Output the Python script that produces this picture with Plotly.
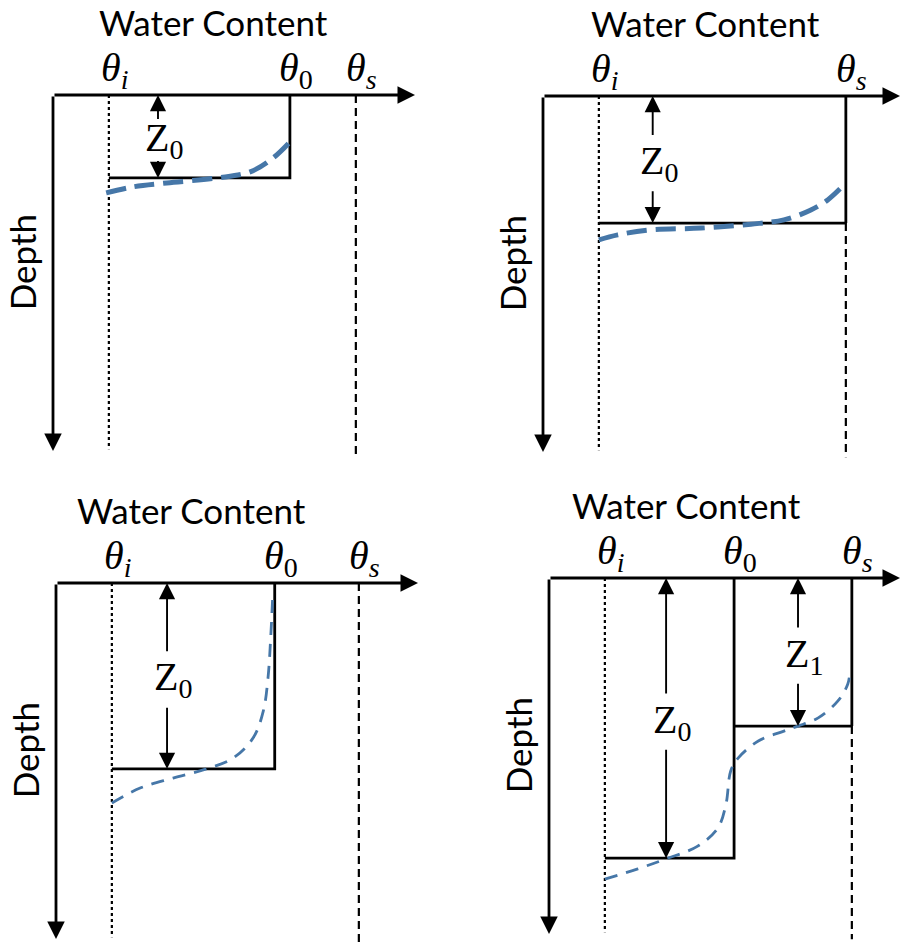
import plotly.graph_objects as go

# ---- data (water content in m3/m3, depth in cm) ----
theta_i = 0.083
theta_s = 0.45
theta_0 = [0.352, None, 0.325, 0.275]      # None -> surface at saturation
z0 = [23.3, 35.7, 52.2, 78.7]
z1 = [None, None, None, 41.6]
z_arrow_x = [0.156, 0.163, 0.165, 0.174]
z1_arrow_x = 0.370

curve_theta = [
    [0.079, 0.119, 0.169, 0.244, 0.293, 0.327, 0.352],
    [0.083, 0.111, 0.160, 0.235, 0.309, 0.358, 0.398, 0.423, 0.447],
    [0.083, 0.125, 0.174, 0.224, 0.263, 0.293, 0.308, 0.315, 0.319, 0.322],
    [0.083, 0.132, 0.174, 0.221, 0.251, 0.263, 0.270, 0.281, 0.311, 0.349,
     0.370, 0.400, 0.429, 0.444, 0.447],
]
curve_depth = [
    [27.5, 25.8, 24.7, 23.3, 21.6, 17.7, 13.2],
    [40.4, 39.0, 37.6, 37.1, 36.0, 34.8, 32.0, 29.2, 25.0],
    [61.8, 57.6, 54.8, 52.2, 49.2, 43.5, 36.0, 26.7, 15.4, 3.7],
    [84.6, 81.7, 78.9, 75.3, 70.2, 63.5, 54.2, 50.6, 45.8, 43.0,
     41.6, 39.3, 34.6, 29.8, 26.1],
]
depth_max = 100

# ---- layout helpers ----
W, H = 902, 942
PX_X, PX_Y = 673.0, 3.56           # pixels per unit
origins = [(53, 95), (543, 96), (56, 583), (549, 578)]
quads = [(0, 451, 0, 471), (451, 902, 0, 471), (0, 451, 471, 942), (451, 902, 471, 942)]
title_x = [0.238, 0.242, 0.202, 0.204]
curve_w = [5, 5, 2.8, 2.8]
curve_dash = ["20px,9px", "20px,9px", "13px,9px", "13px,9px"]

BLUE = "#4677a8"
SANS = "Lato"
SERIF = "Liberation Serif"

fig = go.Figure()
annotations = []
layout = {}

for k in range(4):
    ox, oy = origins[k]
    x0, x1, y0, y1 = quads[k]
    xn = "x" if k == 0 else f"x{k+1}"
    yn = "y" if k == 0 else f"y{k+1}"
    xa = "xaxis" if k == 0 else f"xaxis{k+1}"
    ya = "yaxis" if k == 0 else f"yaxis{k+1}"
    layout[xa] = dict(domain=[x0 / W, x1 / W],
                      range=[(x0 - ox) / PX_X, (x1 - ox) / PX_X],
                      visible=False, anchor=yn, fixedrange=True)
    layout[ya] = dict(domain=[1 - y1 / H, 1 - y0 / H],
                      range=[(y1 - oy) / PX_Y, (y0 - oy) / PX_Y],
                      visible=False, anchor=xn, fixedrange=True)

    def line(xs, ys, dash="solid", width=2.8, color="black"):
        fig.add_trace(go.Scatter(x=xs, y=ys, mode="lines", xaxis=xn, yaxis=yn,
                                 line=dict(color=color, width=width, dash=dash),
                                 showlegend=False, hoverinfo="skip"))

    def arrow(xh, yh, xt, yt, width=2.8, size=1.25, head=2):
        annotations.append(dict(x=xh, y=yh, ax=xt, ay=yt, xref=xn, yref=yn,
                                axref=xn, ayref=yn, text="", showarrow=True,
                                arrowhead=head, arrowsize=size, arrowwidth=width,
                                arrowcolor="black"))

    def text(s, x, y, size, font=SANS, xshift=0, yshift=0, angle=0, yanchor="middle"):
        annotations.append(dict(x=x, y=y, xref=xn, yref=yn, text=s, showarrow=False,
                                font=dict(family=font, size=size, color="black"),
                                xshift=xshift, yshift=yshift, textangle=angle,
                                yanchor=yanchor))

    # initial & saturated water content reference lines
    line([theta_i, theta_i], [0, depth_max - 0.5], dash="3px,3px", width=2.2)
    sat_solid = z1[k] if z1[k] is not None else (z0[k] if theta_0[k] is None else 0)
    if sat_solid > 0:
        line([theta_s, theta_s], [0, sat_solid])
    line([theta_s, theta_s], [sat_solid, depth_max + 1.5], dash="8px,5px", width=2.2)

    # sharp wetting front profile
    if theta_0[k] is not None:
        line([theta_i, theta_0[k], theta_0[k]], [z0[k], z0[k], 0])
    else:
        line([theta_i, theta_s], [z0[k], z0[k]])
    if z1[k] is not None:
        line([theta_0[k], theta_s], [z1[k], z1[k]])

    # smooth profile
    fig.add_trace(go.Scatter(x=curve_theta[k], y=curve_depth[k], mode="lines",
                             xaxis=xn, yaxis=yn, line_shape="spline",
                             line=dict(color=BLUE, width=curve_w[k], dash=curve_dash[k]),
                             showlegend=False, hoverinfo="skip"))

    # axes with arrows
    tip_x = (min(x1 - 2, ox + 362) - ox) / PX_X
    arrow(tip_x, 0, 0, 0)
    arrow(0, depth_max, 0, 0)

    # Z arrows and labels
    zs = [(z_arrow_x[k], z0[k], "0")]
    if z1[k] is not None:
        zs.append((z1_arrow_x, z1[k], "1"))
    for zx, zd, sub in zs:
        mid = zd / 2 + 1
        gap = 5.5 if zd < 30 else 7.5
        arrow(zx, 0, zx, mid - gap, width=1.9, size=1.7)
        arrow(zx, zd, zx, mid + gap, width=1.9, size=1.7)
        text(f"Z<sub>{sub}</sub>", zx, mid, 40, font=SERIF, xshift=6)

    # labels
    text("Water Content", title_x[k], -20.5, 35)
    text("Depth", -0.046, 47, 35, angle=-90)
    text("<i>θ</i><sub><i>i</i></sub>", theta_i, 0, 40, font=SERIF, xshift=6,
         yanchor="bottom", yshift=-2)
    if theta_0[k] is not None:
        text("<i>θ</i><sub>0</sub>", theta_0[k], 0, 40, font=SERIF, xshift=6,
             yanchor="bottom", yshift=-2)
    text("<i>θ</i><sub><i>s</i></sub>", theta_s, 0, 40, font=SERIF, xshift=6,
         yanchor="bottom", yshift=-2)

fig.update_layout(width=W, height=H, margin=dict(l=0, r=0, t=0, b=0),
                  plot_bgcolor="white", paper_bgcolor="white",
                  annotations=annotations, **layout)
fig.write_html("out.html", config={"displayModeBar": False},
               post_script="document.body.style.margin='0';")
